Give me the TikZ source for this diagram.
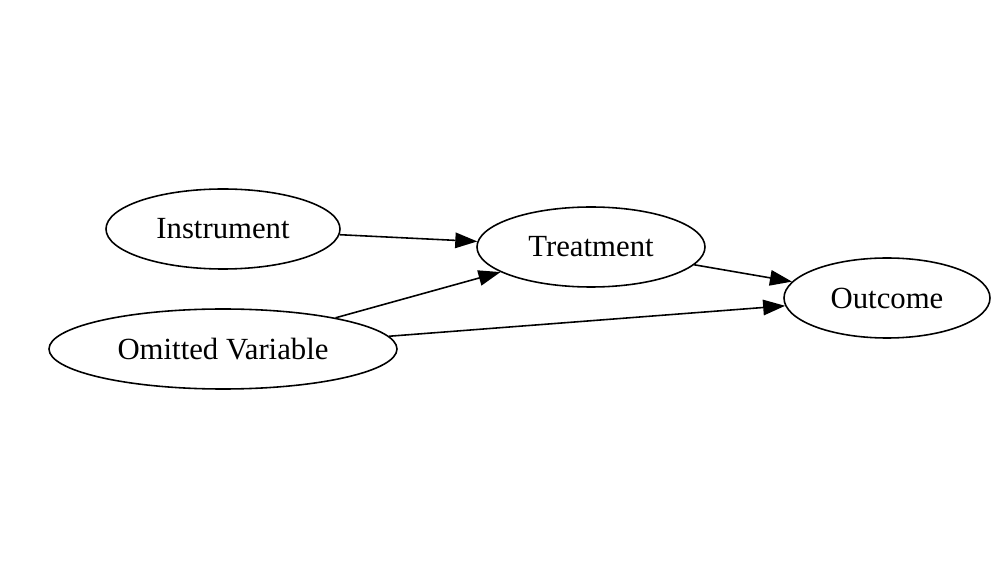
\documentclass[tikz,border=0pt]{standalone}
\usepackage{fontspec}
\setmainfont{Liberation Serif}
\usepackage{tikz}
\usetikzlibrary{shapes.geometric,arrows.meta}

\begin{document}
\begin{tikzpicture}[
    varnode/.style={ellipse, draw, line width=0.9pt, minimum height=1.6cm, inner sep=0pt, font=\fontsize{17.5}{20}\selectfont},
    edge/.style={-{Triangle[length=0.44cm, width=0.31cm]}, line width=0.9pt}
]
    \useasboundingbox (0,0) rectangle (20,11.6);
    \node[varnode, minimum width=4.68cm] (inst) at (4.46,7.02) {Instrument};
    \node[varnode, minimum width=6.96cm] (omit) at (4.46,4.62) {Omitted Variable};
    \node[varnode, minimum width=4.56cm] (treat) at (11.82,6.66) {Treatment};
    \node[varnode, minimum width=4.12cm] (out) at (17.74,5.64) {Outcome};
    
    \draw[edge] (inst) -- (treat);
    \draw[edge] (omit) -- (treat);
    \draw[edge] (treat) -- (out);
    \draw[edge] (omit) -- (out);
\end{tikzpicture}
\end{document}
